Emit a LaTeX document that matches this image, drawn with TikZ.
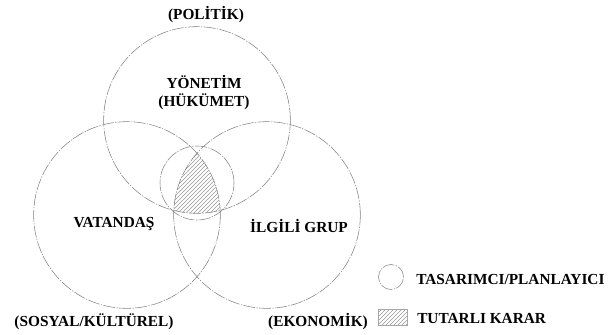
\documentclass[tikz,border=0pt]{standalone}
\usepackage{fontspec}
\setmainfont{Liberation Serif}
\usetikzlibrary{patterns}

\tikzset{
  cercle/.style={circle, draw=gray, line width=0.4pt,
    dash pattern=on 9pt off 1pt on 1pt off 1pt, inner sep=0pt},
  hachure/.style={pattern=north east lines, pattern color=gray!80},
  etiquette/.style={font=\bfseries\fontsize{11.5}{13.5}\selectfont, align=center, inner sep=0pt}
}

\begin{document}
\begin{tikzpicture}[x=0.75pt,y=-0.75pt]
\useasboundingbox (0,0) rectangle (608,335);
% rayons (en pt)
\def\rgrand{70pt}
\def\rpetit{27.75pt}

% Zone commune hachuree
\begin{scope}
  \clip (197,120) circle[radius=\rgrand];
  \clip (127,215) circle[radius=\rgrand];
  \fill[hachure] (267,215) circle[radius=\rgrand];
\end{scope}

% Les trois grands cercles
\node[cercle, minimum size=140pt] (yonetim) at (197,120) {};
\node[cercle, minimum size=140pt] (vatandas) at (127,215) {};
\node[cercle, minimum size=140pt] (grup) at (267,215) {};
% Tasarimci / planlayici
\node[cercle, minimum size=2*\rpetit] (tasarimci) at (197,183) {};

% Textes
\node[etiquette] (politik) at (206,15) {(POLİTİK)};
\node[etiquette] (hukumet) at (204,93) {YÖNETİM\\(HÜKÜMET)};
\node[etiquette] (vatan) at (114,224) {VATANDAŞ};
\node[etiquette] (ilgili) at (299,226) {İLGİLİ GRUP};
\node[etiquette] (sosyal) at (94,322) {(SOSYAL/KÜLTÜREL)};
\node[etiquette] (ekonomik) at (318,322) {(EKONOMİK)};

% Legende
\node[cercle, minimum size=18.75pt] (legcercle) at (391,277) {};
\node[etiquette, anchor=west] (legtas) at (416,279) {TASARIMCI/PLANLAYICI};
\draw[gray!70, line width=0.3pt, hachure] (378,309) rectangle (407,325);
\node[etiquette, anchor=west] (legkarar) at (417,319) {TUTARLI KARAR};
\end{tikzpicture}
\end{document}
